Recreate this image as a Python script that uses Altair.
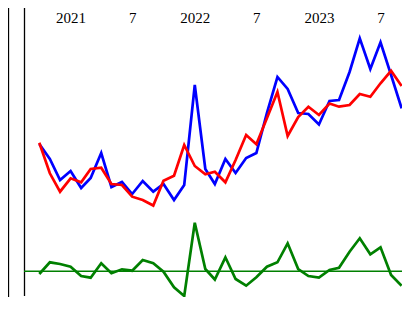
import altair as alt
import pandas as pd

months = [
    "2020-10-01", "2020-11-01", "2020-12-01",
    "2021-01-01", "2021-02-01", "2021-03-01", "2021-04-01", "2021-05-01", "2021-06-01",
    "2021-07-01", "2021-08-01", "2021-09-01", "2021-10-01", "2021-11-01", "2021-12-01",
    "2022-01-01", "2022-02-01", "2022-03-01", "2022-04-01", "2022-05-01", "2022-06-01",
    "2022-07-01", "2022-08-01", "2022-09-01", "2022-10-01", "2022-11-01", "2022-12-01",
    "2023-01-01", "2023-02-01", "2023-03-01", "2023-04-01", "2023-05-01", "2023-06-01",
    "2023-07-01", "2023-08-01", "2023-09-01",
]
blue = [12.73, 11.23, 9.13, 10.03, 8.33, 9.33, 11.83, 8.43, 8.93, 7.73, 9.03, 7.96,
        8.73, 7.13, 8.63, 18.63, 10.23, 8.73, 11.23, 9.83, 11.33, 11.83, 15.83, 19.43,
        18.23, 15.83, 15.73, 14.68, 17.03, 17.13, 19.93, 23.30, 20.23, 22.90, 19.63, 16.30]
red = [12.86, 9.80, 7.96, 9.30, 8.90, 10.23, 10.36, 8.73, 8.63, 7.46, 7.13, 6.58,
       9.06, 9.56, 12.63, 10.53, 9.70, 9.96, 8.90, 11.13, 13.63, 12.70, 15.30, 17.93,
       13.53, 15.43, 16.46, 15.63, 16.78, 16.46, 16.63, 17.73, 17.46, 18.80, 20.05, 18.53]
green = [-0.27, 0.90, 0.73, 0.46, -0.47, -0.64, 0.80, -0.20, 0.20, 0.06, 1.13, 0.80,
         -0.04, -1.60, -2.47, 4.86, 0.23, -0.82, 1.40, -0.77, -1.44, -0.60, 0.46, 0.90,
         2.80, 0.23, -0.47, -0.64, 0.13, 0.36, 1.96, 3.30, 1.70, 2.40, -0.37, -1.44]
tick_dates = ["2021-01-01", "2021-07-01", "2022-01-01", "2022-07-01", "2023-01-01", "2023-07-01"]

W = 394
PAD_TOP = 14
H = 289 - PAD_TOP


def ms(s):
    return int(pd.Timestamp(s, tz="UTC").timestamp() * 1000)


x_scale = alt.Scale(type="utc", domain=[ms("2020-07-01"), ms("2023-09-02 03:00")])
y_top = (263.3 - PAD_TOP) / 10.0
y_scale = alt.Scale(domain=[y_top - H / 10.0, y_top], nice=False, zero=False)
x_axis = alt.Axis(
    orient="top", values=[ms(d) for d in tick_dates], domain=False, ticks=False,
    grid=False, title=None, labelPadding=0, labelBaseline="alphabetic",
    labelExpr="utcmonth(datum.value) == 0 ? utcFormat(datum.value, '%Y') : '' + (utcmonth(datum.value) + 1)",
    labelFont="Liberation Serif", labelFontSize=15, labelColor="black",
)

df_b = pd.DataFrame({"date": months, "value": blue})
df_r = pd.DataFrame({"date": months, "value": red})
df_g = pd.DataFrame({"date": months, "value": green})
one = pd.DataFrame({"v": [0]})


def line(df, color):
    return alt.Chart(df).mark_line(color=color, strokeWidth=2.7).encode(
        x=alt.X("date:T", scale=x_scale, axis=x_axis),
        y=alt.Y("value:Q", scale=y_scale, axis=None),
    )


left_rule = alt.Chart(one).mark_rule(color="black", strokeWidth=1.3).encode(
    x=alt.value(0.5), y=alt.value(-PAD_TOP), y2=alt.value(H))
axis_rule = alt.Chart(one).mark_rule(color="black", strokeWidth=1.3).encode(
    x=alt.value(16.5), y=alt.value(-PAD_TOP), y2=alt.value(H - 1))
zero_rule = alt.Chart(one).mark_rule(color="green", strokeWidth=1.4).encode(
    y=alt.Y("v:Q", scale=y_scale, axis=None), x=alt.value(16), x2=alt.value(W))

chart = alt.layer(
    left_rule, axis_rule, zero_rule,
    line(df_b, "blue"), line(df_r, "red"), line(df_g, "green"),
).properties(
    width=W, height=H,
    autosize=alt.AutoSizeParams(type="none"),
    padding={"top": PAD_TOP, "left": 0, "right": 0, "bottom": 0},
).configure_view(stroke=None)

chart.save("out.html", embed_options={"renderer": "svg", "actions": False})
